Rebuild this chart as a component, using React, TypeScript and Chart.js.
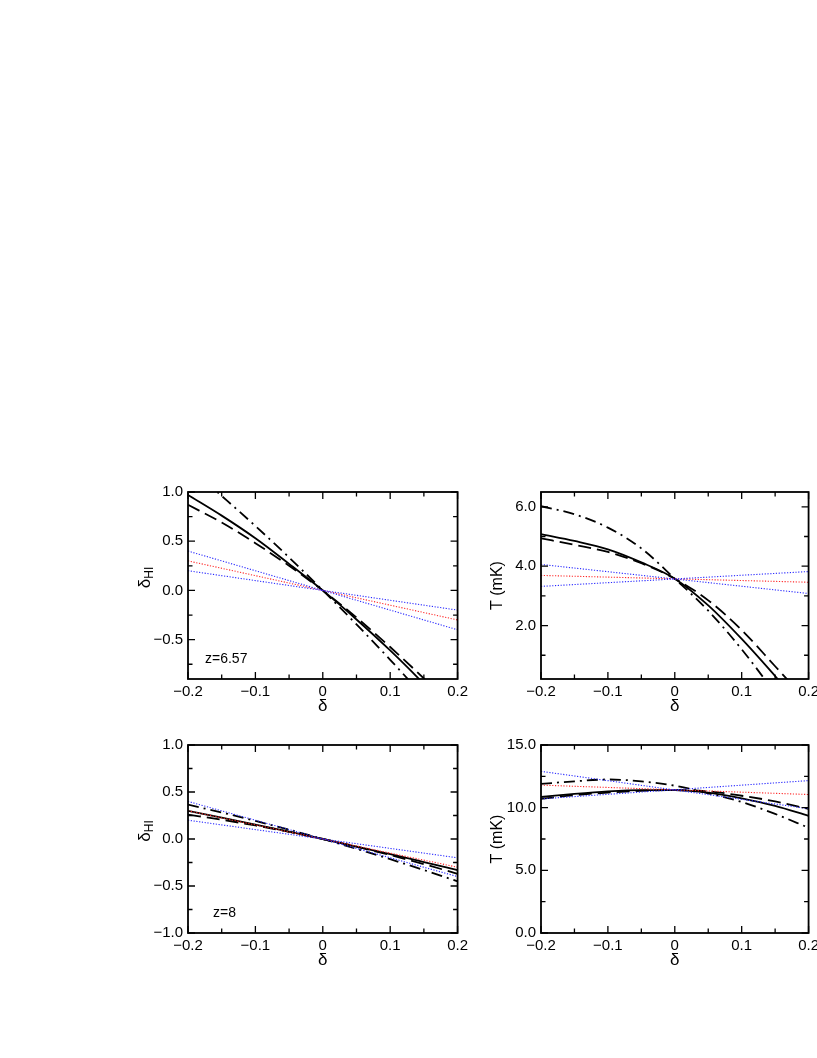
import React, { useEffect, useRef } from "react";
import { Chart, registerables } from "chart.js";

Chart.register(...registerables);

const FONT = '"Liberation Sans", Arial, Helvetica, sans-serif';

// ---- data ----
const deltaGrid = [-0.2, -0.15, -0.1, -0.05, 0, 0.05, 0.1, 0.15, 0.2];
const lineEnds = [-0.2, 0.2];

// z = 6.57, delta_HI
const hiSolid657 = [0.97, 0.76, 0.53, 0.27, 0, -0.295, -0.61, -0.95, -1.31];
const hiDashed657 = [0.87, 0.69, 0.48, 0.25, 0, -0.275, -0.575, -0.895, -1.24];
const hiDashDot657 = [1.26, 0.96, 0.655, 0.335, 0, -0.345, -0.705, -1.08, -1.46];
const hiBlueA657 = [0.4, -0.4];
const hiBlueB657 = [0.2, -0.2];
const hiRed657 = [0.3, -0.3];

// z = 6.57, T (mK)
const tSolid657 = [5.08, 4.85, 4.57, 4.13, 3.58, 2.68, 1.55, 0.3, -1.0];
const tDashed657 = [4.94, 4.72, 4.48, 4.1, 3.58, 2.85, 1.85, 0.63, -0.6];
const tDashDot657 = [6.02, 5.75, 5.3, 4.6, 3.58, 2.5, 1.2, -0.3, -2.0];
const tBlueA657 = [4.06, 3.08];
const tBlueB657 = [3.32, 3.82];
const tRed657 = [3.69, 3.46];

// z = 8, delta_HI
const hiSolid8 = [0.3, 0.228, 0.154, 0.078, 0, -0.08, -0.161, -0.245, -0.33];
const hiDashed8 = [0.26, 0.205, 0.144, 0.076, 0, -0.082, -0.171, -0.267, -0.37];
const hiDashDot8 = [0.365, 0.282, 0.193, 0.099, 0, -0.105, -0.215, -0.33, -0.45];
const hiBlueA8 = [0.4, -0.4];
const hiBlueB8 = [0.2, -0.2];
const hiRed8 = [0.3, -0.3];

// z = 8, T (mK)
const tSolid8 = [10.85, 11.1, 11.3, 11.4, 11.4, 11.2, 10.75, 10.15, 9.35];
const tDashed8 = [10.7, 11.0, 11.2, 11.35, 11.4, 11.3, 10.95, 10.5, 9.9];
const tDashDot8 = [11.9, 12.1, 12.25, 12.1, 11.75, 11.15, 10.45, 9.5, 8.4];
const tBlueA8 = [12.9, 9.92];
const tBlueB8 = [10.7, 12.16];
const tRed8 = [11.8, 11.05];

// ticks
const xMajor = [-0.2, -0.1, 0, 0.1, 0.2];
const xMinor = [-0.15, -0.05, 0.05, 0.15];
const hiMajor657 = [1.0, 0.5, 0.0, -0.5];
const hiMinor657 = [0.75, 0.25, -0.25, -0.75];
const tMajor657 = [6.0, 4.0, 2.0];
const tMinor657 = [5.0, 3.0, 1.0];
const hiMajor8 = [1.0, 0.5, 0.0, -0.5, -1.0];
const hiMinor8 = [0.75, 0.25, -0.25, -0.75];
const tMajor8 = [15.0, 10.0, 5.0, 0.0];
const tMinor8 = [12.5, 7.5, 2.5];

// ---- layout constants ----
const Y_W = 70;
const PAD_T = 12;
const PAD_R = 6;
const X_H = 50;

type Kind = "solid" | "dashed" | "dashdot" | "blue" | "red";
type Series = { xs: number[]; ys: number[]; kind: Kind };

function fmt(v: number, digits: number) {
  const s = v === 0 && digits === 0 ? "0" : Math.abs(v).toFixed(digits);
  return v < 0 ? "\u2212" + s : s;
}

function styleFor(kind: Kind) {
  switch (kind) {
    case "solid":
      return { borderColor: "#000", borderWidth: 1.8, borderDash: [] as number[] };
    case "dashed":
      return { borderColor: "#000", borderWidth: 1.8, borderDash: [13, 6] };
    case "dashdot":
      return { borderColor: "#000", borderWidth: 1.8, borderDash: [11, 5, 2, 5] };
    case "blue":
      return { borderColor: "rgb(40,40,255)", borderWidth: 1.1, borderDash: [1.2, 1.6] };
    case "red":
      return { borderColor: "rgb(255,40,40)", borderWidth: 1.1, borderDash: [1.2, 1.6] };
  }
}

type PanelProps = {
  left: number;
  top: number;
  w: number;
  h: number;
  ymin: number;
  ymax: number;
  yMajor: number[];
  yMinor: number[];
  yTitle: string;
  yTitleSub?: string;
  note?: string;
  noteDx: number;
  series: Series[];
};

function makeDecor(p: PanelProps) {
  return {
    id: "decor",
    afterDraw(chart: any) {
      const { ctx, chartArea: a, scales } = chart;
      const xs = scales.x;
      const ys = scales.y;
      ctx.save();
      ctx.strokeStyle = "#000";
      ctx.fillStyle = "#000";
      ctx.lineWidth = 1.8;
      ctx.strokeRect(a.left, a.top, a.right - a.left, a.bottom - a.top);
      ctx.lineWidth = 1.3;
      const MAJ = 7;
      const MIN = 4.5;
      const vt = (vals: number[], len: number) => {
        for (const v of vals) {
          const px = xs.getPixelForValue(v);
          ctx.beginPath();
          ctx.moveTo(px, a.bottom);
          ctx.lineTo(px, a.bottom - len);
          ctx.moveTo(px, a.top);
          ctx.lineTo(px, a.top + len);
          ctx.stroke();
        }
      };
      const ht = (vals: number[], len: number) => {
        for (const v of vals) {
          const py = ys.getPixelForValue(v);
          ctx.beginPath();
          ctx.moveTo(a.left, py);
          ctx.lineTo(a.left + len, py);
          ctx.moveTo(a.right, py);
          ctx.lineTo(a.right - len, py);
          ctx.stroke();
        }
      };
      vt(xMajor, MAJ);
      vt(xMinor, MIN);
      ht(p.yMajor, MAJ);
      ht(p.yMinor, MIN);

      // x title
      ctx.font = `17px ${FONT}`;
      ctx.textAlign = "center";
      ctx.textBaseline = "top";
      ctx.fillText("\u03b4", (a.left + a.right) / 2, a.bottom + 19);

      // y title
      ctx.save();
      const cy = (a.top + a.bottom) / 2;
      ctx.translate(a.left - 43, cy + (p.yTitleSub ? -8 : 0));
      ctx.rotate(-Math.PI / 2);
      ctx.textBaseline = "middle";
      if (p.yTitleSub) {
        ctx.font = `17px ${FONT}`;
        const w1 = ctx.measureText(p.yTitle).width;
        ctx.font = `12px ${FONT}`;
        const w2 = ctx.measureText(p.yTitleSub).width;
        const start = -(w1 + w2) / 2;
        ctx.textAlign = "left";
        ctx.font = `17px ${FONT}`;
        ctx.fillText(p.yTitle, start, 0);
        ctx.font = `12px ${FONT}`;
        ctx.fillText(p.yTitleSub, start + w1, 5);
      } else {
        ctx.font = `16px ${FONT}`;
        ctx.textAlign = "center";
        ctx.fillText(p.yTitle, 0, 0);
      }
      ctx.restore();

      if (p.note) {
        ctx.font = `14px ${FONT}`;
        ctx.textAlign = "left";
        ctx.textBaseline = "alphabetic";
        ctx.fillText(p.note, a.left + p.noteDx, a.bottom - 16);
      }
      ctx.restore();
    },
  };
}

function Panel(p: PanelProps) {
  const ref = useRef<HTMLCanvasElement>(null);
  const W = Y_W + p.w + PAD_R;
  const H = PAD_T + p.h + X_H;
  useEffect(() => {
    const canvas = ref.current;
    if (!canvas) return;
    const datasets = p.series.map((s) => ({
      data: s.xs.map((x, i) => ({ x, y: s.ys[i] })),
      ...styleFor(s.kind),
      pointRadius: 0,
      fill: false,
      cubicInterpolationMode: "monotone" as const,
    }));
    const chart = new Chart(canvas, {
      type: "line",
      data: { datasets },
      options: {
        animation: false,
        responsive: false,
        devicePixelRatio: 1,
        layout: { padding: { top: PAD_T, right: PAD_R, left: 0, bottom: 0 } },
        plugins: { legend: { display: false }, tooltip: { enabled: false } },
        scales: {
          x: {
            type: "linear",
            min: -0.2,
            max: 0.2,
            grid: { display: false, drawTicks: false },
            border: { display: false },
            afterBuildTicks: (s: any) => {
              s.ticks = xMajor.map((v) => ({ value: v }));
            },
            afterFit: (s: any) => {
              s.height = X_H;
            },
            ticks: {
              padding: 4,
              color: "#000",
              font: { family: FONT, size: 15 },
              maxRotation: 0,
              autoSkip: false,
              callback: (v: any) => fmt(Number(v), Number(v) === 0 ? 0 : 1),
            },
          },
          y: {
            type: "linear",
            min: p.ymin,
            max: p.ymax,
            grid: { display: false, drawTicks: false },
            border: { display: false },
            afterBuildTicks: (s: any) => {
              s.ticks = p.yMajor.map((v) => ({ value: v }));
            },
            afterFit: (s: any) => {
              s.width = Y_W;
            },
            ticks: {
              padding: 5,
              color: "#000",
              font: { family: FONT, size: 15 },
              autoSkip: false,
              callback: (v: any) => fmt(Number(v), 1),
            },
          },
        },
      },
      plugins: [makeDecor(p)],
    });
    return () => chart.destroy();
  }, []);
  return (
    <canvas
      ref={ref}
      width={W}
      height={H}
      style={{ position: "absolute", left: p.left - Y_W, top: p.top - PAD_T, width: W, height: H }}
    />
  );
}

const mk = (solid: number[], dashed: number[], dashdot: number[], blueA: number[], blueB: number[], red: number[]): Series[] => [
  { xs: lineEnds, ys: blueA, kind: "blue" },
  { xs: lineEnds, ys: blueB, kind: "blue" },
  { xs: lineEnds, ys: red, kind: "red" },
  { xs: deltaGrid, ys: dashdot, kind: "dashdot" },
  { xs: deltaGrid, ys: dashed, kind: "dashed" },
  { xs: deltaGrid, ys: solid, kind: "solid" },
];

export default function App() {
  return (
    <div style={{ position: "fixed", left: 0, top: 0, width: 817, height: 1058, overflow: "hidden", background: "#fff" }}>
      <Panel
        left={188}
        top={490}
        w={278}
        h={189}
        ymin={-0.9}
        ymax={1.0}
        yMajor={hiMajor657}
        yMinor={hiMinor657}
        yTitle={"\u03b4"}
        yTitleSub="HI"
        note="z=6.57"
        noteDx={17}
        series={mk(hiSolid657, hiDashed657, hiDashDot657, hiBlueA657, hiBlueB657, hiRed657)}
      />
      <Panel
        left={541}
        top={490}
        w={276}
        h={189}
        ymin={0.2}
        ymax={6.5}
        yMajor={tMajor657}
        yMinor={tMinor657}
        yTitle="T (mK)"
        noteDx={0}
        series={mk(tSolid657, tDashed657, tDashDot657, tBlueA657, tBlueB657, tRed657)}
      />
      <Panel
        left={188}
        top={743}
        w={278}
        h={190}
        ymin={-1.0}
        ymax={1.0}
        yMajor={hiMajor8}
        yMinor={hiMinor8}
        yTitle={"\u03b4"}
        yTitleSub="HI"
        note="z=8"
        noteDx={25}
        series={mk(hiSolid8, hiDashed8, hiDashDot8, hiBlueA8, hiBlueB8, hiRed8)}
      />
      <Panel
        left={541}
        top={743}
        w={276}
        h={190}
        ymin={0}
        ymax={15}
        yMajor={tMajor8}
        yMinor={tMinor8}
        yTitle="T (mK)"
        noteDx={0}
        series={mk(tSolid8, tDashed8, tDashDot8, tBlueA8, tBlueB8, tRed8)}
      />
    </div>
  );
}
